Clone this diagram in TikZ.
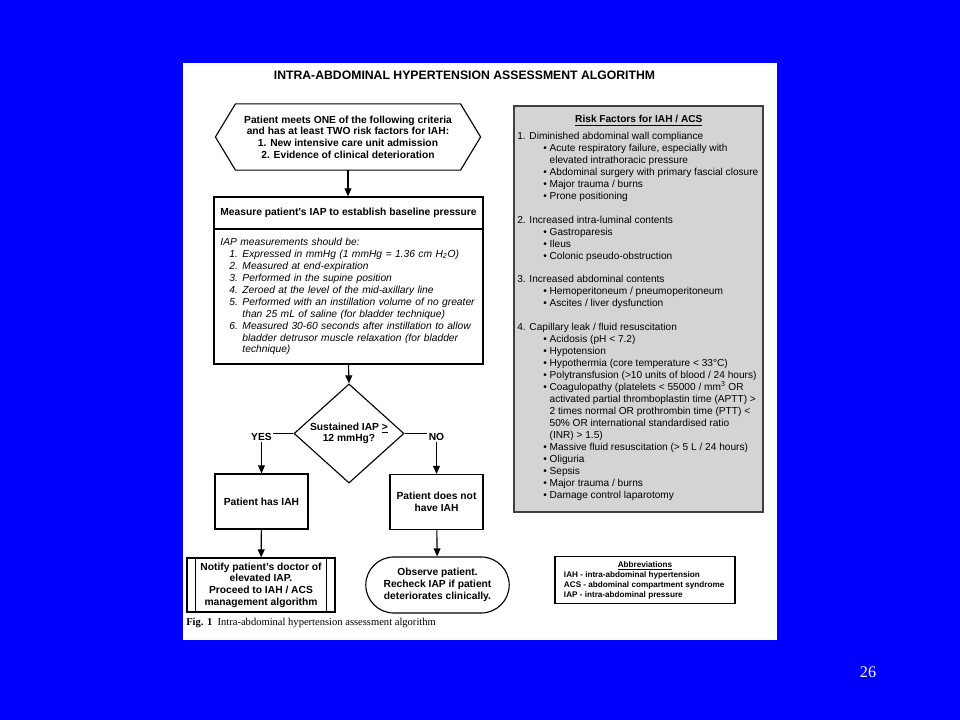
\documentclass[tikz,border=0pt]{standalone}
\usepackage{fontspec}
\setmainfont{Liberation Sans}
\newfontfamily\timesfont{Liberation Serif}
\usetikzlibrary{arrows.meta, positioning, shapes.geometric, shapes.misc, calc}
\definecolor{slideblue}{RGB}{0, 0, 255}
\definecolor{riskgray}{RGB}{212, 212, 212}
\newcommand{\boxfont}{\fontsize{7.3}{8.3}\selectfont\bfseries}
\newcommand{\listfont}{\fontsize{7.3}{8.5}\selectfont\itshape}
\newcommand{\riskfont}{\fontsize{7.2}{8.5}\selectfont}
\newcommand{\iapitem}[2]{\hspace*{0.225cm}\makebox[0.325cm][l]{#1}#2}
\newcommand{\riskitem}[1]{\hspace*{0.65cm}•\ #1}
\newcommand{\riskcont}[1]{\hspace*{0.65cm}\phantom{•\ }#1}

\begin{document}
\begin{tikzpicture}[
    x=0.025cm, y=-0.025cm,
    flowbox/.style={rectangle, draw, line width=0.8pt, align=center, font=\boxfont, inner sep=2pt},
    branch/.style={font=\boxfont, inner sep=1pt},
    arrow/.style={-{Triangle[length=2mm, width=1.7mm]}, line width=0.8pt},
    flowline/.style={line width=0.8pt}
  ]
  % slide and page
  \fill[slideblue] (0,0) rectangle (960,720);
  \fill[white] (183,63) rectangle (777,640);
  \node[font=\fontsize{8.7}{10}\selectfont\bfseries] (title) at (464.5,75) {INTRA-ABDOMINAL HYPERTENSION ASSESSMENT ALGORITHM};

  % entry criteria
  \node[flowbox, draw=none, minimum width=6.6cm, minimum height=1.625cm, inner sep=0pt] (criteria) at (348,137) {Patient meets ONE of the following criteria\\and has at least TWO risk factors for IAH:\\1. New intensive care unit admission\\2. Evidence of clinical deterioration};
  \draw[flowline] (criteria.west) -- ($(criteria.north west)+(20,0)$) -- ($(criteria.north east)+(-20,0)$) -- (criteria.east) -- ($(criteria.south east)+(-20,0)$) -- ($(criteria.south west)+(20,0)$) -- cycle;

  % measurement
  \node[flowbox, minimum width=6.725cm, minimum height=0.8cm] (measure) at (348.5,213) {Measure patient's IAP to establish baseline pressure};
  \node[flowbox, font=\listfont, align=left, text width=6.4cm, minimum width=6.725cm, minimum height=3.375cm, below=-0.8pt of measure] (iaplist) {IAP measurements should be:\\
    \iapitem{1.}{Expressed in mmHg (1 mmHg = 1.36 cm H\textsubscript{2}O)}\\
    \iapitem{2.}{Measured at end-expiration}\\
    \iapitem{3.}{Performed in the supine position}\\
    \iapitem{4.}{Zeroed at the level of the mid-axillary line}\\
    \iapitem{5.}{Performed with an instillation volume of no greater}\\
    \iapitem{}{than 25 mL of saline (for bladder technique)}\\
    \iapitem{6.}{Measured 30-60 seconds after instillation to allow}\\
    \iapitem{}{bladder detrusor muscle relaxation (for bladder}\\
    \iapitem{}{technique)}};

  % decision
  \node[flowbox, shape=diamond, minimum width=2.75cm, minimum height=2.075cm, inner sep=0pt] (sustained) at (349,433.5) {Sustained IAP \underline{>}\\12 mmHg?};
  \node[branch] (yes) at (261.5,437) {YES};
  \node[branch] (no) at (436.5,437) {NO};
  \node[flowbox, minimum width=2.325cm, minimum height=1.375cm] (hasiah) at (261.5,501.5) {Patient has IAH};
  \node[flowbox, minimum width=2.325cm, minimum height=1.375cm] (noiah) at (436.5,502) {Patient does not\\have IAH};
  \node[flowbox, minimum width=3.7cm, minimum height=1.35cm] (notify) at (261,585) {Notify patient's doctor of\\elevated IAP.\\Proceed to IAH / ACS\\management algorithm};
  \draw[flowline] ($(notify.north west)+(9,0)$) -- ($(notify.south west)+(9,0)$);
  \draw[flowline] ($(notify.north east)+(-9,0)$) -- ($(notify.south east)+(-9,0)$);
  \node[flowbox, rounded rectangle, minimum width=3.725cm, minimum height=1.4cm] (observe) at (437.5,585) {Observe patient.\\Recheck IAP if patient\\deteriorates clinically.};

  \draw[arrow] (criteria.south) -- (criteria.south |- measure.north);
  \draw[arrow] (iaplist.south) -- (sustained.north);
  \draw[flowline] (sustained.west) -- (sustained.west -| yes.east);
  \draw[flowline] (sustained.east) -- (sustained.east -| no.west);
  \draw[arrow] (yes) -- (hasiah);
  \draw[arrow] (no) -- (noiah);
  \draw[arrow] (hasiah) -- (notify);
  \draw[arrow] (noiah) -- (observe);

  % risk factors
  \node[draw=black!75, fill=riskgray, line width=0.8pt, minimum width=6.225cm, minimum height=10.15cm] (risk) at (638.5,309) {};
  \node[font=\riskfont, align=left, anchor=north west, inner sep=0pt] (risklist) at (517,115) {\makebox[6.075cm]{\bfseries\underline{Risk Factors for IAH / ACS}}\\[3.5pt]
    1. Diminished abdominal wall compliance\\
    \riskitem{Acute respiratory failure, especially with}\\
    \riskcont{elevated intrathoracic pressure}\\
    \riskitem{Abdominal surgery with primary fascial closure}\\
    \riskitem{Major trauma / burns}\\
    \riskitem{Prone positioning}\\[8.5pt]
    2. Increased intra-luminal contents\\
    \riskitem{Gastroparesis}\\
    \riskitem{Ileus}\\
    \riskitem{Colonic pseudo-obstruction}\\[8.5pt]
    3. Increased abdominal contents\\
    \riskitem{Hemoperitoneum / pneumoperitoneum}\\
    \riskitem{Ascites / liver dysfunction}\\[8.5pt]
    4. Capillary leak / fluid resuscitation\\
    \riskitem{Acidosis (pH < 7.2)}\\
    \riskitem{Hypotension}\\
    \riskitem{Hypothermia (core temperature < 33°C)}\\
    \riskitem{Polytransfusion (>10 units of blood / 24 hours)}\\
    \riskitem{Coagulopathy (platelets < 55000 / mm\textsuperscript{3} OR}\\
    \riskcont{activated partial thromboplastin time (APTT) >}\\
    \riskcont{2 times normal OR prothrombin time (PTT) <}\\
    \riskcont{50\% OR international standardised ratio}\\
    \riskcont{(INR) > 1.5)}\\
    \riskitem{Massive fluid resuscitation (> 5 L / 24 hours)}\\
    \riskitem{Oliguria}\\
    \riskitem{Sepsis}\\
    \riskitem{Major trauma / burns}\\
    \riskitem{Damage control laparotomy}};

  % abbreviations
  \node[draw, line width=0.8pt, minimum width=4.5cm, minimum height=1.15cm, align=left, font=\fontsize{5.8}{7.1}\selectfont\bfseries] (abbrev) at (645,580) {\makebox[4.05cm]{\underline{Abbreviations}}\\IAH - intra-abdominal hypertension\\ACS - abdominal compartment syndrome\\IAP - intra-abdominal pressure};

  % caption and page number
  \node[anchor=west, font=\timesfont\fontsize{7.5}{9}\selectfont, inner sep=0pt] (caption) at (186,623) {\textbf{Fig. 1}\ \ Intra-abdominal hypertension assessment algorithm};
  \node[text=white, font=\timesfont\fontsize{11.5}{13}\selectfont] (pagenum) at (868,672.5) {26};
\end{tikzpicture}
\end{document}
